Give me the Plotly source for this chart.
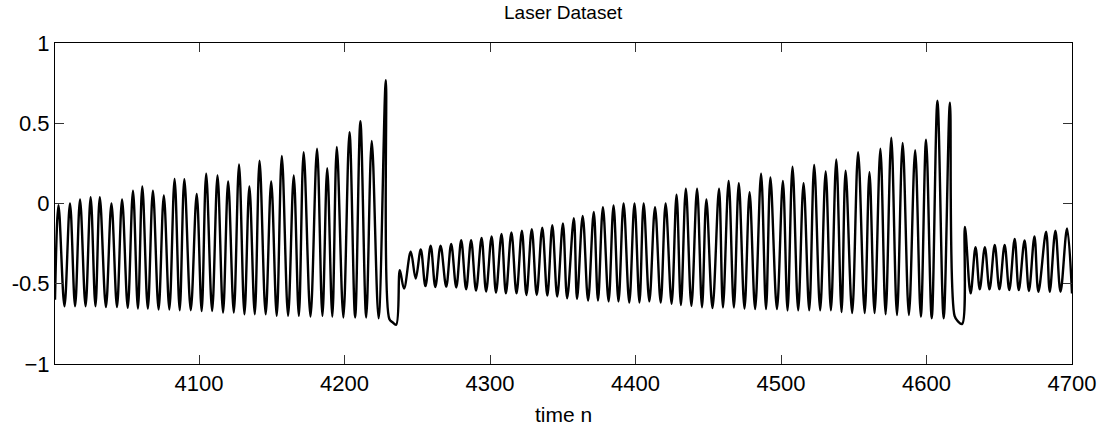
import plotly.graph_objects as go

# Local maxima (time index, value)
peak_n = [4003.4, 4011.3, 4018.2, 4025.5, 4031.8, 4039.8, 4047.1, 4054.6, 4061.0, 4068.3,
          4075.8, 4083.2, 4089.9, 4098.4, 4104.9, 4112.7, 4120.0, 4127.5, 4134.6, 4141.6,
          4149.6, 4156.9, 4165.1, 4171.9, 4181.1, 4188.1, 4194.7, 4203.4, 4210.9, 4218.7,
          4228.4,
          4238.0, 4245.5, 4252.4, 4259.2, 4266.0, 4273.3, 4280.2, 4287.0, 4294.2, 4301.1,
          4307.9, 4314.7, 4321.9, 4328.7, 4335.9, 4342.8, 4350.1, 4357.6, 4363.7, 4371.3,
          4377.6, 4384.9, 4391.8, 4399.3, 4405.6, 4413.4, 4420.7, 4428.2, 4434.6, 4442.3,
          4448.7, 4457.4, 4464.0, 4471.0, 4478.4, 4486.3, 4492.7, 4501.3, 4507.9, 4515.5,
          4522.8, 4530.7, 4538.0, 4544.4, 4553.0, 4560.8, 4568.3, 4575.8, 4583.6, 4592.2,
          4599.7, 4607.5, 4616.1,
          4626.4, 4633.7, 4640.1, 4646.9, 4653.7, 4660.6, 4667.4, 4674.2, 4682.2, 4688.6,
          4696.6]
peak_v = [-0.01, 0.0, 0.025, 0.04, 0.04, 0.0, 0.025, 0.08, 0.106, 0.08,
          0.05, 0.153, 0.152, 0.06, 0.185, 0.174, 0.137, 0.244, 0.106, 0.266,
          0.137, 0.297, 0.174, 0.32, 0.342, 0.22, 0.352, 0.445, 0.512, 0.39,
          0.768,
          -0.416, -0.30, -0.287, -0.263, -0.263, -0.252, -0.228, -0.228, -0.215, -0.205,
          -0.19, -0.18, -0.17, -0.16, -0.15, -0.135, -0.125, -0.092, -0.078, -0.053,
          -0.023, -0.012, 0.0, 0.0, 0.0, -0.023, 0.0, 0.055, 0.092, 0.092,
          0.025, 0.092, 0.141, 0.127, 0.07, 0.185, 0.162, 0.141, 0.23, 0.127,
          0.24, 0.2, 0.275, 0.205, 0.32, 0.195, 0.342, 0.41, 0.377, 0.332,
          0.398, 0.64, 0.628,
          -0.146, -0.272, -0.272, -0.258, -0.258, -0.221, -0.23, -0.205, -0.176, -0.17,
          -0.156]

# Local minima (time index, value)
trough_n = [4001.0, 4007.5, 4014.8, 4022.0, 4028.8, 4036.0, 4043.6, 4051.0, 4058.0, 4064.8,
            4072.2, 4079.6, 4086.7, 4094.3, 4101.8, 4109.0, 4116.5, 4123.9, 4131.2, 4138.3,
            4145.8, 4153.4, 4161.2, 4168.6, 4176.6, 4184.8, 4191.6, 4199.2, 4207.3, 4214.9,
            4223.4,
            4230.8, 4233.0, 4235.5,
            4240.9, 4248.9, 4255.6, 4262.4, 4269.9, 4276.8, 4283.6, 4290.4, 4297.3, 4304.1,
            4310.9, 4318.2, 4325.0, 4332.1, 4339.4, 4346.2, 4353.0, 4359.8, 4367.4, 4374.2,
            4381.5, 4388.3, 4395.7, 4402.7, 4409.5, 4417.3, 4424.8, 4431.2, 4438.4, 4445.7,
            4452.9, 4460.1, 4467.6, 4474.9, 4482.2, 4489.7, 4497.2, 4504.5, 4511.8, 4519.4,
            4526.9, 4534.3, 4541.6, 4548.9, 4557.5, 4564.3, 4571.9, 4579.7, 4587.9, 4596.1,
            4603.6, 4611.8,
            4619.3, 4621.7, 4624.5,
            4630.3, 4636.6, 4643.3, 4650.1, 4656.9, 4663.4, 4670.4, 4676.9, 4684.7, 4692.1,
            4700.0]
trough_v = [-0.60, -0.64, -0.64, -0.64, -0.64, -0.645, -0.645, -0.65, -0.655, -0.655,
            -0.66, -0.66, -0.665, -0.665, -0.67, -0.67, -0.68, -0.68, -0.69, -0.69,
            -0.69, -0.70, -0.70, -0.70, -0.705, -0.70, -0.705, -0.71, -0.71, -0.71,
            -0.715,
            -0.72, -0.74, -0.755,
            -0.53, -0.467, -0.515, -0.52, -0.518, -0.523, -0.535, -0.543, -0.549, -0.555,
            -0.56, -0.56, -0.57, -0.57, -0.574, -0.58, -0.59, -0.595, -0.605, -0.605,
            -0.61, -0.61, -0.617, -0.617, -0.61, -0.617, -0.625, -0.632, -0.638, -0.646,
            -0.652, -0.648, -0.648, -0.655, -0.658, -0.658, -0.658, -0.666, -0.666, -0.666,
            -0.666, -0.666, -0.676, -0.683, -0.683, -0.683, -0.69, -0.695, -0.695, -0.705,
            -0.715, -0.715,
            -0.70, -0.735, -0.75,
            -0.56, -0.535, -0.535, -0.535, -0.54, -0.54, -0.545, -0.55, -0.55, -0.55,
            -0.56]

x_ticks = [4100, 4200, 4300, 4400, 4500, 4600, 4700]
x_ticklabels = ["4100", "4200", "4300", "4400", "4500", "4600", "4700"]
y_ticks = [-1, -0.5, 0, 0.5, 1]
y_ticklabels = ["\u22121", "-0.5", "0", "0.5", "1"]

pts = sorted(zip(peak_n + trough_n, peak_v + trough_v))
n = [p[0] for p in pts]
v = [p[1] for p in pts]

FONT = "Liberation Sans, Arial, Helvetica, sans-serif"

fig = go.Figure()
fig.add_trace(go.Scatter(
    x=n, y=v, mode="lines",
    line=dict(color="black", width=2.4, shape="spline", smoothing=1.0),
    hoverinfo="skip", showlegend=False,
))

axis_common = dict(
    showline=True, linecolor="black", linewidth=1, mirror="ticks",
    ticks="inside", ticklen=9, tickcolor="#333333", tickwidth=1,
    showgrid=False, zeroline=False,
    tickfont=dict(family=FONT, size=22, color="black"),
)

fig.update_layout(
    width=1108, height=429,
    margin=dict(l=49, r=36, t=43, b=65),
    paper_bgcolor="white", plot_bgcolor="white",
    xaxis=dict(range=[4001, 4700], tickmode="array", tickvals=x_ticks,
               ticktext=x_ticklabels, **axis_common),
    yaxis=dict(range=[-1, 1], tickmode="array", tickvals=y_ticks,
               ticktext=y_ticklabels, **axis_common),
    annotations=[
        dict(text="Laser Dataset", x=0.5, y=(364 - 13) / 321, xref="paper", yref="paper",
             showarrow=False, font=dict(family=FONT, size=19, color="black"),
             xanchor="center", yanchor="middle"),
        dict(text="time n", x=0.5, y=(364 - 414) / 321, xref="paper", yref="paper",
             showarrow=False, font=dict(family=FONT, size=21, color="black"),
             xanchor="center", yanchor="middle"),
    ],
)

fig.write_html("out.html")
